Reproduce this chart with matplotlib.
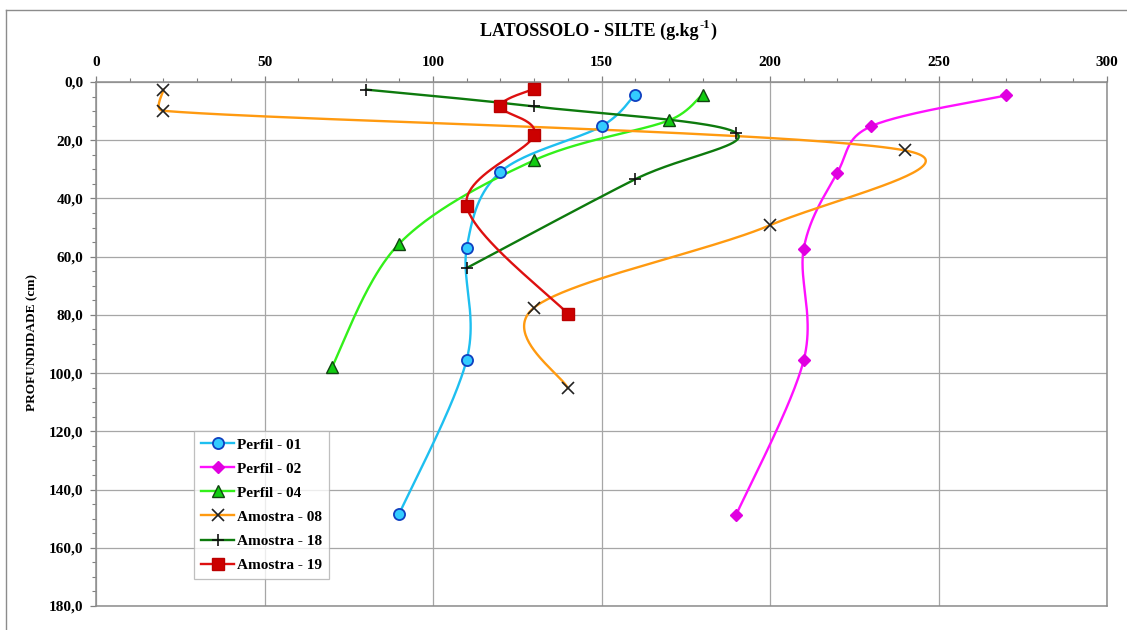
import numpy as np
import matplotlib
matplotlib.use("Agg")
import matplotlib.pyplot as plt
from matplotlib.ticker import MultipleLocator, FuncFormatter
from matplotlib.lines import Line2D

# ---- data (x = silte g/kg, y = profundidade cm) ----
p01_x = [160, 150, 120, 110, 110, 90]
p01_y = [4.3, 15.2, 30.9, 57.0, 95.4, 148.3]
p02_x = [270, 230, 220, 210, 210, 190]
p02_y = [4.6, 15.2, 31.1, 57.3, 95.6, 148.6]
p04_x = [180, 170, 130, 90, 70]
p04_y = [4.3, 13.2, 26.9, 55.5, 97.9]
a08_x = [20, 20, 240, 200, 130, 140]
a08_y = [2.6, 9.9, 23.5, 49.2, 77.5, 105.2]
a18_x = [80, 130, 190, 160, 110]
a18_y = [2.6, 8.4, 17.5, 33.4, 63.9]
a19_x = [130, 120, 130, 110, 140]
a19_y = [2.3, 8.4, 18.3, 42.6, 79.6]

labels = ["Perfil - 01", "Perfil - 02", "Perfil - 04",
          "Amostra - 08", "Amostra - 18", "Amostra - 19"]

title_main = "LATOSSOLO - SILTE (g.kg"
title_sup = "-1"
title_end = ")"
ylabel = "PROFUNDIDADE (cm)"

W, H = 1127, 630
L, R, T, B = 96, 1107, 82, 606
XMAX, YMAX = 300.0, 180.0
SX = (R - L) / XMAX   # px per x unit
SY = (B - T) / YMAX   # px per y unit


def smooth(xs, ys, n=50):
    """Excel-like smoothed line: Bezier segments, control arms limited
    to half the segment length (computed in screen space)."""
    P = np.column_stack([np.asarray(xs, float) * SX, np.asarray(ys, float) * SY])
    m = len(P)
    out = [P[0]]
    for i in range(m - 1):
        p0 = P[i - 1] if i > 0 else P[i]
        p1 = P[i]
        p2 = P[i + 1]
        p3 = P[i + 2] if i + 2 < m else P[i + 1]
        d12 = np.linalg.norm(p2 - p1)
        v1 = (p2 - p0) / 6.0
        v2 = (p3 - p1) / 6.0
        n1, n2 = np.linalg.norm(v1), np.linalg.norm(v2)
        if n1 > d12 / 2 and n1 > 0:
            v1 = v1 * (d12 / 2) / n1
        if n2 > d12 / 2 and n2 > 0:
            v2 = v2 * (d12 / 2) / n2
        c1 = p1 + v1
        c2 = p2 - v2
        t = np.linspace(0, 1, n)[1:, None]
        seg = ((1 - t) ** 3) * p1 + 3 * ((1 - t) ** 2) * t * c1 + 3 * (1 - t) * t ** 2 * c2 + t ** 3 * p2
        out.extend(seg)
    out = np.array(out)
    return out[:, 0] / SX, out[:, 1] / SY


plt.rcParams['font.family'] = ['Liberation Serif', 'DejaVu Serif']

fig = plt.figure(figsize=(W / 100, H / 100), dpi=100)
ax = fig.add_axes([L / W, 1 - B / H, (R - L) / W, (B - T) / H])

series = [
    (p01_x, p01_y, dict(color="#1ebff0", marker="o", mfc="#33ccff", mec="#1040c0", ms=8, mew=1.3)),
    (p02_x, p02_y, dict(color="#ff10ff", marker="D", mfc="#e000e0", mec="#e000e0", ms=6.5, mew=1.0)),
    (p04_x, p04_y, dict(color="#33f01a", marker="^", mfc="#11cc11", mec="#114411", ms=8.5, mew=1.0)),
    (a08_x, a08_y, dict(color="#ff9a10", marker="x", mfc="none", mec="#222222", ms=8, mew=1.2)),
    (a18_x, a18_y, dict(color="#0d7a0d", marker="+", mfc="none", mec="#111111", ms=9, mew=1.2)),
    (a19_x, a19_y, dict(color="#dd1010", marker="s", mfc="#cc0000", mec="#bb0000", ms=8, mew=1.0)),
]

handles = []
for (xs, ys, st), lab in zip(series, labels):
    sx, sy = smooth(xs, ys)
    ax.plot(sx, sy, color=st["color"], lw=1.7, zorder=3, solid_capstyle="round")
    ax.plot(xs, ys, ls="none", marker=st["marker"], mfc=st["mfc"], mec=st["mec"],
            ms=st["ms"], mew=st["mew"], zorder=4)
    handles.append(Line2D([], [], color=st["color"], lw=1.7, marker=st["marker"],
                          mfc=st["mfc"], mec=st["mec"], ms=st["ms"], mew=st["mew"]))

ax.set_xlim(0, XMAX)
ax.set_ylim(YMAX, 0)
ax.xaxis.tick_top()
ax.xaxis.set_major_locator(MultipleLocator(50))
ax.xaxis.set_minor_locator(MultipleLocator(10))
ax.yaxis.set_major_locator(MultipleLocator(20))
ax.yaxis.set_minor_locator(MultipleLocator(5))
ax.yaxis.set_major_formatter(FuncFormatter(lambda v, p: f"{v:.1f}".replace(".", ",")))
ax.xaxis.set_major_formatter(FuncFormatter(lambda v, p: f"{v:.0f}"))

ax.tick_params(axis="both", which="major", direction="out", length=4, width=0.9,
               color="#808080", labelsize=11)
ax.tick_params(axis="x", which="major", pad=5)
ax.tick_params(axis="y", which="major", pad=5)
ax.tick_params(axis="both", which="minor", direction="out", length=3, width=0.8, color="#808080")
for lab in ax.get_xticklabels() + ax.get_yticklabels():
    lab.set_fontweight("bold")

ax.grid(True, which="major", color="#a6a6a6", lw=0.9)
ax.set_axisbelow(True)
for s in ax.spines.values():
    s.set_color("#8c8c8c")
    s.set_linewidth(1.1)

# title with a hyphen superscript, assembled from pieces
t1 = fig.text(480 / W, 1 - 31 / H, title_main, ha="left", va="center",
              fontsize=13, fontweight="bold")
fig.canvas.draw()
bb = t1.get_window_extent()
t2 = fig.text(bb.x1 / W + 0.5 / W, 1 - 25 / H, title_sup, ha="left", va="center",
              fontsize=9, fontweight="bold")
fig.canvas.draw()
bb2 = t2.get_window_extent()
fig.text(bb2.x1 / W + 1 / W, 1 - 31 / H, title_end, ha="left", va="center",
         fontsize=13, fontweight="bold")

fig.text(32 / W, 1 - 343 / H, ylabel, ha="center", va="center", rotation=90,
         fontsize=9.5, fontweight="bold")

leg = ax.legend(handles, labels, loc="upper left",
                bbox_to_anchor=((194 - L) / (R - L), (B - 431) / (B - T)),
                borderaxespad=0, frameon=True, fancybox=False,
                prop=dict(weight="bold", size=11), handlelength=2.2,
                handletextpad=0.15, labelspacing=0.68, borderpad=0.45)
leg.get_frame().set_edgecolor("#b0b0b0")
leg.get_frame().set_linewidth(0.9)

# outer chart border (left and top edges visible)
fig.add_artist(Line2D([6 / W, 6 / W], [0, 1 - 10 / H], transform=fig.transFigure,
                      color="#8c8c8c", lw=1.0))
fig.add_artist(Line2D([6 / W, 1], [1 - 10 / H, 1 - 10 / H], transform=fig.transFigure,
                      color="#8c8c8c", lw=1.0))

fig.savefig("out.png", dpi=100)
